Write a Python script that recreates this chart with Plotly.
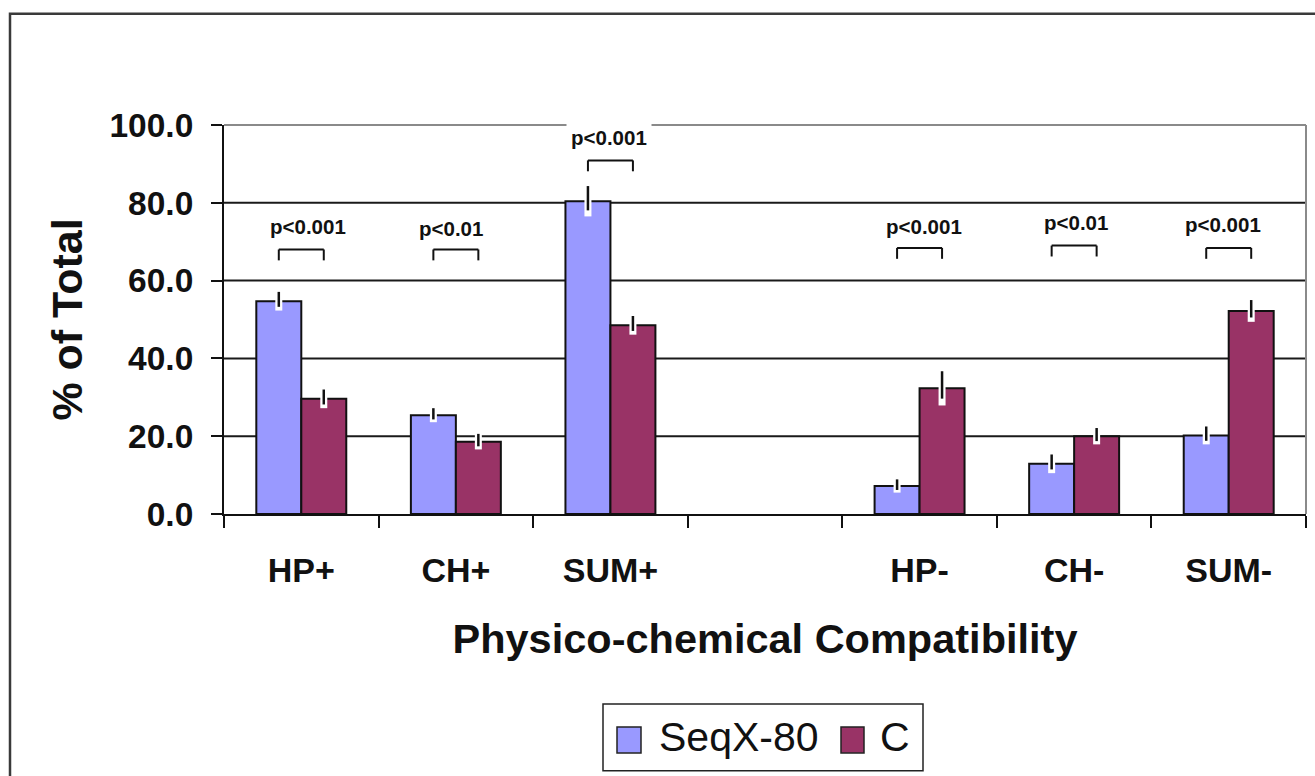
import plotly.graph_objects as go

# Categories on the x axis (the blank slot separates the + and - groups)
categories = ["HP+", "CH+", "SUM+", " ", "HP-", "CH-", "SUM-"]
groups = ["HP+", "CH+", "SUM+", "HP-", "CH-", "SUM-"]

# Series values (% of total) and their error magnitudes
seqx80 = [54.7, 25.4, 80.4, 7.2, 12.9, 20.2]
seqx80_err = [2.4, 1.8, 3.9, 1.7, 2.4, 2.3]
control = [29.6, 18.6, 48.5, 32.3, 20.0, 52.2]
control_err = [2.4, 2.0, 2.4, 4.4, 2.1, 2.8]

# Significance labels, bracket heights and label heights (data units)
p_labels = ["p<0.001", "p<0.01", "p<0.001", "p<0.001", "p<0.01", "p<0.001"]
bracket_y = [68.0, 68.0, 90.9, 68.4, 69.0, 68.4]
label_y = [74.0, 73.5, 96.9, 73.8, 74.9, 74.5]
label_dx = [7, -5, -1, 4, 2, -6]

y_ticks = [0, 20, 40, 60, 80, 100]
grid_vals = [20, 40, 60, 80]

series_names = ["SeqX-80", "C"]
series_colors = ["#9999FF", "#993366"]

W, H = 1315, 776
ML, MR, MT, MB = 224, 9, 124.5, 261.5
PW = W - ML - MR
PH = H - MT - MB
BARGAP = 0.418
FONT = "Liberation Sans, Arial, sans-serif"


def px_x(px):
    return (px - ML) / PW


def px_y(py):
    return (H - MB - py) / PH


fig = go.Figure()

# Bars with a white halo behind each error bar
for name, vals, errs, color, grp in [
    (series_names[0], seqx80, seqx80_err, series_colors[0], "a"),
    (series_names[1], control, control_err, series_colors[1], "b"),
]:
    fig.add_trace(go.Bar(
        x=groups, y=vals, name=name, offsetgroup=grp,
        marker=dict(color=color, line=dict(color="#111111", width=2)),
        error_y=dict(type="data", array=errs, symmetric=True,
                     color="white", thickness=7, width=0),
        showlegend=False,
    ))

# Black error whiskers drawn over the halos
for vals, errs, grp in [(seqx80, seqx80_err, "a"), (control, control_err, "b")]:
    fig.add_trace(go.Bar(
        x=groups, y=vals, offsetgroup=grp,
        marker=dict(color="rgba(0,0,0,0)", line=dict(width=0)),
        error_y=dict(type="data", array=errs,
                     arrayminus=[e * 0.6 for e in errs], symmetric=False,
                     color="#111111", thickness=2.5, width=0),
        showlegend=False, hoverinfo="skip",
    ))

shapes = []

# Horizontal gridlines
for g in grid_vals:
    shapes.append(dict(type="line", xref="paper", yref="y", x0=0, x1=1,
                       y0=g, y1=g, line=dict(color="#1a1a1a", width=2),
                       layer="below"))

# Plot-area border (top and right)
shapes.append(dict(type="line", xref="paper", yref="paper", x0=0, x1=1,
                   y0=1, y1=1, line=dict(color="#8a8a8a", width=2)))
shapes.append(dict(type="line", xref="paper", yref="paper", x0=1, x1=1,
                   y0=0, y1=1, line=dict(color="#8a8a8a", width=2)))

# Significance brackets spanning the two bar centres of each group
off = (1 - BARGAP) / 4
leg = 2.8
annotations = []
for g, lab, by, ly, dx in zip(groups, p_labels, bracket_y, label_y, label_dx):
    i = categories.index(g)
    xa, xb = i - off, i + off
    for x0, y0, x1, y1 in [(xa, by - leg, xa, by), (xa, by, xb, by),
                           (xb, by, xb, by - leg)]:
        shapes.append(dict(type="line", xref="x", yref="y", x0=x0, y0=y0,
                           x1=x1, y1=y1, line=dict(color="#111111", width=2)))
    annotations.append(dict(
        x=i, y=ly, xref="x", yref="y", text="<b>%s</b>" % lab,
        showarrow=False, xshift=dx, bgcolor="white", borderpad=4,
        font=dict(family=FONT, size=20.5, color="#111111"),
    ))

# Outer chart frame
shapes.append(dict(type="rect", xref="paper", yref="paper",
                   x0=px_x(10), x1=px_x(1330), y0=px_y(790), y1=px_y(13),
                   line=dict(color="#3a3a3a", width=2.5), layer="below"))

# Legend box
shapes.append(dict(type="rect", xref="paper", yref="paper",
                   x0=px_x(603), x1=px_x(923), y0=px_y(772), y1=px_y(705),
                   line=dict(color="#222222", width=1.5),
                   fillcolor="white"))
legend_items = [(617, 641, 657, series_names[0], series_colors[0]),
                (841, 864, 878, series_names[1], series_colors[1])]
for sx0, sx1, tx, name, color in legend_items:
    shapes.append(dict(type="rect", xref="paper", yref="paper",
                       x0=px_x(sx0), x1=px_x(sx1), y0=px_y(754), y1=px_y(728),
                       fillcolor=color, line=dict(color="#222222", width=1.5)))
    annotations.append(dict(
        x=px_x(tx), y=px_y(738.5), xref="paper", yref="paper", text=name,
        showarrow=False, xanchor="left", yanchor="middle",
        font=dict(family=FONT, size=41, color="#111111"),
    ))

fig.update_layout(
    width=W, height=H,
    margin=dict(l=ML, r=MR, t=MT, b=MB, pad=0),
    paper_bgcolor="white", plot_bgcolor="white",
    barmode="group", bargap=BARGAP, bargroupgap=0,
    showlegend=False,
    shapes=shapes, annotations=annotations,
    font=dict(family=FONT, color="#111111"),
)

fig.update_xaxes(
    type="category", categoryorder="array", categoryarray=categories,
    range=[-0.5, len(categories) - 0.5],
    tickson="boundaries", ticks="outside", ticklen=12, tickwidth=2,
    tickcolor="#111111", showline=True, linecolor="#111111", linewidth=2,
    showgrid=False, ticklabelstandoff=25,
    tickfont=dict(family=FONT, size=34, weight="bold", color="#111111"),
    title=dict(text="Physico-chemical Compatibility", standoff=36,
               font=dict(family=FONT, size=41.5, weight="bold",
                         color="#111111")),
)

fig.update_yaxes(
    range=[0, 100], tickvals=y_ticks, tickformat=".1f",
    ticks="outside", ticklen=11, tickwidth=2, tickcolor="#111111",
    showline=True, linecolor="#111111", linewidth=2,
    showgrid=False, zeroline=False, ticklabelstandoff=11,
    tickfont=dict(family=FONT, size=33.5, weight="bold", color="#111111"),
    title=dict(text="% of Total", standoff=13,
               font=dict(family=FONT, size=43, weight="bold",
                         color="#111111")),
)

fig.write_html("out.html")
